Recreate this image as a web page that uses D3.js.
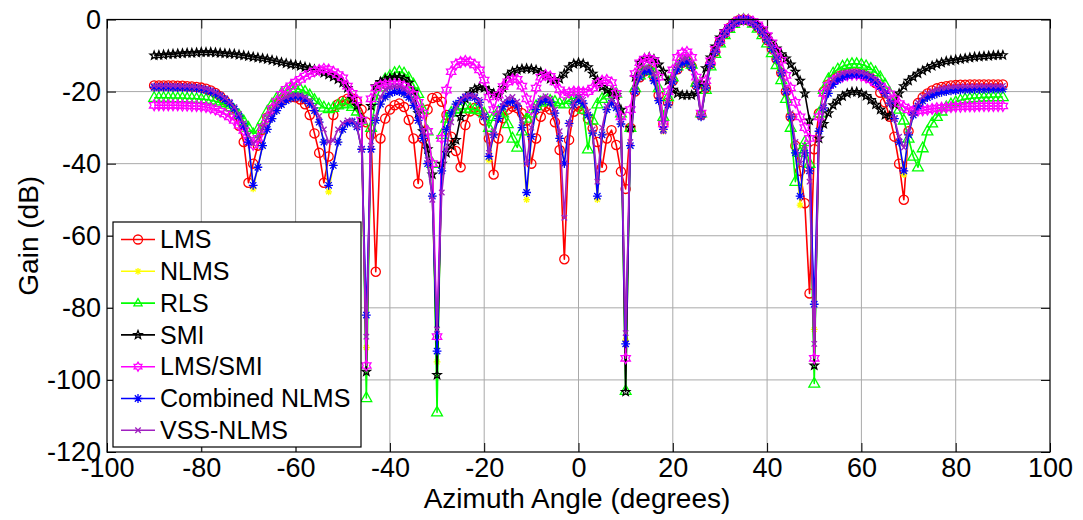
<!DOCTYPE html>
<html>
<head>
<meta charset="utf-8">
<script src="https://cdn.jsdelivr.net/npm/d3@7"></script>
<style>
  body { margin: 0; background: #fff; }
  svg { font-family: "Liberation Sans", Arial, sans-serif; }
</style>
</head>
<body>
<div id="chart"></div>
<script>
// sampled azimuth angles, one per degree
var angleStart = -90, angleEnd = 90, angleStep = 1;

var xTicks = [-100, -80, -60, -40, -20, 0, 20, 40, 60, 80, 100];
var yTicks = [-120, -100, -80, -60, -40, -20, 0];

var seriesNames = ["LMS", "NLMS", "RLS", "SMI", "LMS/SMI", "Combined NLMS", "VSS-NLMS"];

// gain in dB, -90 .. 90 degrees
var lms = [
  -18.3,-18.3,-18.3,-18.3,-18.3,-18.4,-18.4,-18.5,-18.6,-18.7,
  -18.9,-19.2,-19.7,-20.4,-21.3,-22.5,-24.2,-26.5,-29.5,-34.0,
  -45.3,-40.0,-35.0,-30.6,-27.2,-25.0,-23.5,-22.5,-21.8,-21.5,
  -21.6,-22.2,-23.5,-26.5,-31.6,-37.0,-45.3,-38.0,-26.5,-23.5,
  -22.6,-22.0,-21.9,-22.8,-25.0,-28.5,-32.0,-70.0,-33.0,-27.5,
  -25.0,-23.8,-23.3,-24.3,-27.9,-33.0,-45.5,-33.0,-25.0,-21.8,
  -21.5,-22.8,-26.5,-32.5,-36.5,-41.0,-29.3,-25.5,-24.5,-25.5,
  -28.0,-33.0,-43.0,-33.0,-27.4,-25.0,-24.2,-24.6,-26.0,-28.0,
  -40.0,-33.0,-27.0,-24.2,-25.0,-28.5,-36.2,-66.5,-33.4,-25.6,
  -24.2,-25.0,-27.5,-30.2,-34.0,-41.0,-33.0,-30.7,-34.8,-42.2,
  -47.0,-30.0,-20.0,-16.0,-14.4,-14.0,-15.8,-21.0,-29.0,-23.0,
  -17.0,-13.8,-12.0,-11.6,-13.0,-18.2,-26.5,-19.0,-12.3,-8.9,
  -6.1,-3.9,-2.3,-1.0,-0.2,0,-0.2,-0.9,-2.1,-3.7,
  -5.7,-8.1,-11.0,-14.8,-20.0,-27.0,-35.0,-42.0,-51.0,-76.0,
  -36.0,-26.0,-20.0,-18.0,-16.6,-15.8,-15.3,-15.0,-14.9,-14.9,
  -15.1,-15.6,-16.3,-17.6,-20.3,-23.0,-27.0,-32.5,-40.0,-50.0,
  -31.0,-25.5,-23.2,-21.6,-20.5,-19.7,-19.1,-18.7,-18.5,-18.3,
  -18.2,-18.1,-18.1,-18.0,-18.0,-18.0,-18.0,-18.0,-18.0,-18.0,
  -18.0
];

var nlms = [
  -18.8,-18.8,-18.8,-18.8,-18.9,-18.9,-18.9,-19.0,-19.0,-19.1,
  -19.3,-19.6,-20.0,-20.6,-21.3,-22.2,-23.3,-24.8,-26.8,-29.5,
  -34.0,-47.0,-41.0,-35.0,-30.5,-27.5,-25.3,-23.6,-22.5,-21.8,
  -21.5,-21.6,-22.2,-23.3,-25.3,-28.5,-34.0,-47.8,-40.5,-34.0,
  -30.5,-28.8,-28.4,-29.8,-36.0,-91.0,-36.0,-28.0,-23.5,-21.5,
  -20.5,-20.0,-20.0,-20.6,-21.6,-23.8,-28.0,-33.0,-40.0,-49.0,
  -95.0,-42.0,-30.5,-26.0,-23.5,-22.5,-21.6,-21.4,-21.7,-23.0,
  -27.0,-39.0,-32.0,-27.5,-24.2,-23.0,-22.8,-24.0,-30.0,-50.0,
  -32.5,-25.0,-22.8,-22.3,-23.0,-26.0,-33.0,-40.0,-28.8,-23.7,
  -22.3,-23.3,-26.5,-31.5,-50.0,-32.0,-25.0,-23.2,-24.5,-29.0,
  -89.0,-35.0,-20.0,-16.0,-14.5,-14.2,-17.0,-22.5,-31.0,-23.7,
  -17.3,-14.0,-12.2,-11.8,-13.2,-18.5,-27.0,-19.0,-12.5,-9.0,
  -6.2,-4.0,-2.4,-1.1,-0.3,0,-0.2,-0.9,-2.1,-3.7,
  -5.7,-8.1,-11.0,-14.8,-20.0,-27.0,-37.0,-51.5,-37.0,-42.0,
  -86.0,-31.0,-24.5,-20.5,-18.0,-16.8,-16.0,-15.5,-15.3,-15.2,
  -15.3,-15.7,-16.3,-17.3,-18.6,-20.5,-23.2,-27.5,-34.0,-43.0,
  -32.0,-26.5,-24.0,-22.6,-21.7,-21.1,-20.6,-20.2,-20.0,-19.8,
  -19.7,-19.6,-19.5,-19.5,-19.4,-19.4,-19.4,-19.3,-19.3,-19.3,
  -19.3
];

var rls = [
  -21.7,-21.7,-21.7,-21.7,-21.8,-21.8,-21.8,-21.9,-21.9,-22.0,
  -22.1,-22.2,-22.4,-22.7,-23.1,-23.6,-24.3,-25.2,-26.5,-28.2,
  -30.0,-31.8,-30.5,-28.0,-25.5,-23.5,-21.8,-20.5,-19.7,-19.2,
  -19.1,-19.4,-20.0,-21.0,-22.3,-23.5,-24.4,-24.8,-24.5,-23.8,
  -23.3,-23.5,-24.2,-25.5,-28.0,-105.0,-30.0,-22.5,-18.8,-16.5,
  -15.6,-14.8,-14.5,-14.9,-16.2,-18.0,-20.6,-25.0,-31.0,-40.0,
  -109.0,-32.0,-27.5,-25.8,-25.0,-24.8,-24.7,-24.8,-25.0,-25.2,
  -26.0,-30.0,-27.0,-25.5,-26.0,-29.0,-33.0,-35.5,-31.0,-27.5,
  -26.0,-24.0,-23.0,-22.6,-22.5,-22.8,-23.3,-23.5,-22.3,-21.8,
  -22.0,-25.0,-36.0,-28.0,-23.5,-22.0,-21.0,-20.2,-20.5,-26.0,
  -103.0,-30.0,-19.0,-15.5,-14.2,-13.8,-15.0,-19.0,-27.0,-21.5,
  -16.0,-13.0,-11.5,-11.2,-12.5,-17.5,-26.0,-19.5,-13.0,-9.5,
  -6.6,-4.3,-2.6,-1.2,-0.3,0,-0.3,-1.1,-2.5,-4.3,
  -6.6,-9.3,-12.6,-16.8,-22.0,-30.0,-45.0,-37.0,-34.0,-40.0,
  -101.0,-26.0,-19.5,-16.5,-14.9,-13.8,-13.0,-12.6,-12.3,-12.3,
  -12.5,-12.9,-13.6,-14.6,-16.0,-18.0,-20.4,-22.8,-25.0,-28.0,
  -33.0,-38.0,-41.0,-35.7,-31.0,-28.8,-27.0,-25.5,-24.3,-23.5,
  -22.9,-22.4,-22.1,-21.9,-21.8,-21.7,-21.6,-21.6,-21.5,-21.5,
  -21.5
];

var smi = [
  -10.0,-9.9,-9.8,-9.7,-9.6,-9.5,-9.4,-9.3,-9.3,-9.2,
  -9.1,-9.1,-9.1,-9.2,-9.3,-9.4,-9.5,-9.6,-9.8,-10.0,
  -10.2,-10.4,-10.6,-10.8,-11.0,-11.3,-11.6,-11.9,-12.2,-12.5,
  -12.6,-12.9,-13.2,-13.5,-13.9,-14.3,-14.8,-15.3,-15.9,-16.6,
  -17.5,-19.0,-22.0,-24.0,-27.5,-97.7,-24.0,-18.5,-17.3,-16.6,
  -16.2,-16.0,-16.0,-16.5,-17.5,-20.0,-26.0,-31.0,-36.0,-43.0,
  -98.6,-40.0,-37.0,-35.0,-33.4,-27.0,-22.0,-20.5,-19.3,-18.8,
  -19.0,-19.8,-20.5,-21.0,-19.0,-15.5,-14.5,-14.0,-13.7,-13.6,
  -13.7,-14.0,-14.6,-15.5,-16.5,-17.0,-16.5,-15.0,-13.3,-12.3,
  -12.0,-12.3,-13.2,-15.0,-16.8,-18.7,-19.6,-20.3,-21.0,-25.0,
  -103.3,-30.0,-16.0,-12.0,-10.8,-10.5,-11.0,-12.5,-14.5,-17.0,
  -19.5,-20.5,-21.0,-21.0,-21.0,-20.5,-17.5,-13.5,-10.5,-7.5,
  -5.0,-3.2,-1.8,-0.8,-0.2,0,-0.1,-0.6,-1.5,-2.7,
  -4.3,-6.2,-8.0,-9.6,-10.8,-12.5,-14.5,-17.0,-20.5,-28.0,
  -96.0,-33.0,-29.0,-26.0,-23.8,-22.5,-21.3,-20.5,-20.1,-20.1,
  -20.5,-21.2,-22.3,-23.6,-25.0,-26.5,-26.8,-23.5,-20.5,-18.5,
  -17.0,-16.0,-15.0,-14.2,-13.5,-12.9,-12.4,-12.0,-11.6,-11.4,
  -11.2,-11.0,-10.8,-10.6,-10.4,-10.3,-10.2,-10.1,-10.0,-9.9,
  -9.9
];

var lmsSmi = [
  -23.8,-23.8,-23.8,-23.8,-23.8,-23.8,-23.9,-23.9,-24.0,-24.0,
  -24.1,-24.3,-24.6,-25.0,-25.5,-26.2,-27.0,-28.0,-29.3,-30.8,
  -33.5,-34.8,-33.0,-30.0,-27.2,-24.8,-22.8,-20.8,-19.4,-18.4,
  -17.4,-16.6,-15.7,-15.0,-14.4,-14.0,-13.7,-13.9,-14.5,-15.3,
  -16.2,-18.5,-20.5,-22.3,-28.0,-96.0,-22.0,-19.0,-18.3,-18.0,
  -17.9,-17.9,-18.0,-18.5,-19.4,-20.8,-23.0,-26.0,-31.0,-40.0,
  -88.0,-33.0,-19.6,-14.5,-12.5,-11.8,-11.5,-11.8,-12.6,-14.0,
  -16.8,-21.5,-25.0,-21.0,-18.6,-17.3,-16.6,-16.6,-18.5,-22.0,
  -25.0,-19.0,-16.0,-15.4,-15.8,-17.3,-19.5,-20.8,-20.3,-20.0,
  -20.0,-20.2,-20.0,-19.0,-17.8,-17.0,-16.8,-17.5,-20.5,-27.0,
  -94.0,-25.0,-15.0,-12.0,-11.0,-10.8,-11.5,-16.0,-29.0,-20.0,
  -14.0,-10.5,-9.3,-9.0,-10.5,-16.0,-26.0,-17.0,-11.5,-8.3,
  -5.8,-3.7,-2.2,-1.0,-0.2,0,-0.1,-0.6,-1.5,-2.8,
  -4.5,-6.5,-8.8,-11.3,-15.5,-19.0,-23.0,-27.0,-30.0,-33.0,
  -94.0,-27.0,-20.5,-18.3,-17.0,-16.3,-15.8,-15.5,-15.3,-15.3,
  -15.6,-16.1,-16.7,-17.5,-18.5,-19.5,-20.6,-22.0,-23.3,-24.3,
  -25.0,-25.3,-25.3,-25.2,-25.0,-24.8,-24.6,-24.5,-24.4,-24.3,
  -24.2,-24.2,-24.1,-24.1,-24.1,-24.0,-24.0,-24.0,-24.0,-24.0,
  -24.0
];

var combinedNlms = [
  -18.8,-18.8,-18.8,-18.8,-18.9,-18.9,-18.9,-19.0,-19.0,-19.1,
  -19.3,-19.6,-20.0,-20.6,-21.3,-22.2,-23.3,-24.8,-26.8,-29.5,
  -34.0,-46.0,-41.0,-35.0,-30.5,-27.5,-25.3,-23.6,-22.5,-21.8,
  -21.5,-21.6,-22.2,-23.3,-25.3,-28.5,-34.0,-46.0,-40.5,-34.0,
  -30.5,-28.8,-28.4,-29.8,-36.0,-82.0,-36.0,-28.0,-23.5,-21.5,
  -20.5,-20.0,-20.0,-20.6,-21.6,-23.8,-28.0,-33.0,-40.0,-49.0,
  -92.0,-42.0,-30.5,-26.0,-23.5,-22.5,-21.6,-21.4,-21.7,-23.0,
  -27.0,-38.0,-32.0,-27.5,-24.2,-23.0,-22.8,-24.0,-30.0,-48.0,
  -32.5,-25.0,-22.8,-22.3,-23.0,-26.0,-33.0,-40.0,-28.8,-23.7,
  -22.3,-23.3,-26.5,-31.5,-49.0,-32.0,-25.0,-23.2,-24.5,-29.0,
  -90.0,-35.0,-20.0,-16.0,-14.5,-14.2,-17.0,-22.5,-30.5,-23.7,
  -17.3,-14.0,-12.2,-11.8,-13.2,-18.5,-27.0,-19.0,-12.5,-9.0,
  -6.2,-4.0,-2.4,-1.1,-0.3,0,-0.2,-0.9,-2.1,-3.7,
  -5.7,-8.1,-11.0,-14.8,-20.0,-27.0,-37.0,-49.0,-37.0,-42.0,
  -79.0,-31.0,-24.5,-20.5,-18.0,-16.8,-16.0,-15.5,-15.3,-15.2,
  -15.3,-15.7,-16.3,-17.3,-18.6,-20.5,-23.2,-27.5,-34.0,-42.0,
  -32.0,-26.5,-24.0,-22.6,-21.7,-21.1,-20.6,-20.2,-20.0,-19.8,
  -19.7,-19.6,-19.5,-19.5,-19.4,-19.4,-19.4,-19.3,-19.3,-19.3,
  -19.3
];

var vssNlms = [
  -18.4,-18.4,-18.4,-18.4,-18.4,-18.4,-18.5,-18.5,-18.6,-18.7,
  -18.9,-19.2,-19.6,-20.2,-20.9,-21.8,-22.9,-24.3,-26.2,-28.8,
  -32.0,-34.5,-33.0,-30.0,-27.3,-25.2,-23.6,-22.4,-21.6,-21.1,
  -20.9,-21.0,-21.5,-22.5,-24.2,-26.8,-30.5,-34.0,-33.5,-30.5,
  -28.8,-28.0,-28.0,-29.5,-36.0,-88.0,-35.0,-27.0,-21.5,-19.5,
  -18.8,-18.5,-18.6,-19.2,-20.3,-22.5,-25.5,-31.0,-39.0,-50.0,
  -86.0,-48.0,-36.0,-28.5,-24.5,-22.3,-21.3,-21.0,-21.3,-22.3,
  -26.5,-37.0,-31.0,-26.0,-23.0,-21.8,-21.5,-22.8,-28.0,-40.0,
  -30.0,-24.0,-21.8,-21.3,-22.0,-25.0,-31.0,-55.0,-29.0,-23.0,
  -21.5,-22.3,-25.5,-30.5,-45.0,-30.0,-24.0,-22.2,-23.5,-28.0,
  -87.0,-34.0,-19.0,-15.0,-13.5,-13.2,-15.0,-21.0,-31.0,-22.5,
  -16.3,-12.8,-11.2,-10.8,-12.3,-17.8,-27.0,-18.5,-12.2,-8.8,
  -6.1,-3.9,-2.3,-1.0,-0.2,0,-0.2,-0.8,-1.9,-3.5,
  -5.5,-7.8,-10.6,-14.3,-19.3,-26.0,-34.0,-40.0,-35.0,-45.0,
  -90.0,-33.0,-24.0,-19.0,-16.8,-15.5,-14.9,-14.6,-14.5,-14.5,
  -14.7,-15.1,-15.7,-16.7,-18.2,-20.3,-23.2,-27.5,-32.5,-35.5,
  -31.0,-26.0,-23.0,-21.4,-20.4,-19.8,-19.3,-19.0,-18.8,-18.7,
  -18.6,-18.6,-18.5,-18.5,-18.5,-18.4,-18.4,-18.4,-18.4,-18.4,
  -18.4
];

((() => {

  var width = 1083;
  var height = 520;

  var x = d3.scaleLinear().domain([-100, 100]).range([107, 1050]);
  var y = d3.scaleLinear().domain([-120, 0]).range([452, 19.5]);

  var angles = d3.range(angleStart, angleEnd + angleStep, angleStep);

  var series = [
    { name: seriesNames[0], values: lms,          color: "#ff0000", marker: "circle",   r: 4.6 },
    { name: seriesNames[1], values: nlms,         color: "#ffff00", marker: "asterisk", r: 3.4 },
    { name: seriesNames[2], values: rls,          color: "#00ff00", marker: "triangle", r: 6.0 },
    { name: seriesNames[3], values: smi,          color: "#000000", marker: "pentagram",r: 4.4 },
    { name: seriesNames[4], values: lmsSmi,       color: "#ff00ff", marker: "hexagram", r: 5.4 },
    { name: seriesNames[5], values: combinedNlms, color: "#0000ff", marker: "asterisk", r: 4.4 },
    { name: seriesNames[6], values: vssNlms,      color: "#a020c0", marker: "cross",    r: 3.4 }
  ];

  var svg = d3
    .select("#chart")
    .append("svg")
    .attr("width", width)
    .attr("height", height);

  // marker shapes like the matlab ones
  function starPath(n, ro, ri) {
    var pts = d3.range(n * 2).map(function(k) {
      var a = -Math.PI / 2 + k * Math.PI / n;
      var rr = k % 2 === 0 ? ro : ri;
      return [rr * Math.cos(a), rr * Math.sin(a)];
    });
    return "M" + pts.map(function(p) { return p[0].toFixed(2) + "," + p[1].toFixed(2); }).join("L") + "Z";
  }

  function markerPath(shape, r) {
    if (shape === "circle") {
      return "M" + r + ",0A" + r + "," + r + " 0 1,1 " + (-r) + ",0A" + r + "," + r + " 0 1,1 " + r + ",0Z";
    }
    if (shape === "triangle") {
      return "M0," + (-r) + "L" + (r * 0.9) + "," + (r * 0.6) + "L" + (-r * 0.9) + "," + (r * 0.6) + "Z";
    }
    if (shape === "pentagram") return starPath(5, r, r * 0.42);
    if (shape === "hexagram") return starPath(6, r, r * 0.58);
    if (shape === "cross") {
      var c = r * 0.8;
      return "M" + (-c) + "," + (-c) + "L" + c + "," + c + "M" + (-c) + "," + c + "L" + c + "," + (-c);
    }
    // asterisk: plus and cross together
    var d = r * 0.72;
    return "M" + (-r) + ",0L" + r + ",0M0," + (-r) + "L0," + r +
      "M" + (-d) + "," + (-d) + "L" + d + "," + d + "M" + (-d) + "," + d + "L" + d + "," + (-d);
  }

  // grid
  var grid = svg.append("g").attr("class", "grid");
  grid.selectAll("line.gx")
    .data(xTicks.slice(1, -1))
    .enter()
    .append("line")
    .attr("x1", function(d) { return x(d); })
    .attr("x2", function(d) { return x(d); })
    .attr("y1", y(0))
    .attr("y2", y(-120))
    .attr("stroke", "#a9a9a9")
    .attr("stroke-width", 1);
  grid.selectAll("line.gy")
    .data(yTicks.slice(1, -1))
    .enter()
    .append("line")
    .attr("x1", x(-100))
    .attr("x2", x(100))
    .attr("y1", function(d) { return y(d); })
    .attr("y2", function(d) { return y(d); })
    .attr("stroke", "#a9a9a9")
    .attr("stroke-width", 1);

  // axes, ticks pointing inwards, plain hyphen for minus
  var fontSize = "27px";
  var plain = function(d) { return String(d); };

  var xAxis = svg.append("g")
    .attr("transform", "translate(0," + y(-120) + ")")
    .call(d3.axisBottom(x).tickValues(xTicks).tickFormat(plain).tickSizeInner(-9).tickSizeOuter(0).tickPadding(6));
  var yAxis = svg.append("g")
    .attr("transform", "translate(" + x(-100) + ",0)")
    .call(d3.axisLeft(y).tickValues(yTicks).tickFormat(plain).tickSizeInner(-9).tickSizeOuter(0).tickPadding(6));
  svg.append("g")
    .attr("transform", "translate(0," + y(0) + ")")
    .call(d3.axisTop(x).tickValues(xTicks).tickSizeInner(-9).tickSizeOuter(0).tickFormat(""));
  svg.append("g")
    .attr("transform", "translate(" + x(100) + ",0)")
    .call(d3.axisRight(y).tickValues(yTicks).tickSizeInner(-9).tickSizeOuter(0).tickFormat(""));

  svg.selectAll(".domain").remove();
  svg.selectAll(".tick line").attr("stroke", "#000");
  [xAxis, yAxis].forEach(function(a) {
    a.selectAll("text")
      .style("font-size", fontSize)
      .style("font-family", "'Liberation Sans', Arial, sans-serif")
      .attr("fill", "#000");
  });

  // series: line first, then its markers
  var line = d3.line()
    .x(function(d, i) { return x(angles[i]); })
    .y(function(d) { return y(d); });

  series.forEach(function(s) {
    var g = svg.append("g").attr("class", "series");
    g.append("path")
      .datum(s.values)
      .attr("d", line)
      .attr("fill", "none")
      .attr("stroke", s.color)
      .attr("stroke-width", 1.6)
      .attr("stroke-linejoin", "round");
    g.selectAll("path.mk")
      .data(s.values)
      .enter()
      .append("path")
      .attr("class", "mk")
      .attr("d", markerPath(s.marker, s.r))
      .attr("transform", function(d, i) { return "translate(" + x(angles[i]) + "," + y(d) + ")"; })
      .attr("fill", "none")
      .attr("stroke", s.color)
      .attr("stroke-width", 1.3);
  });

  // frame
  svg.append("rect")
    .attr("x", x(-100))
    .attr("y", y(0))
    .attr("width", x(100) - x(-100))
    .attr("height", y(-120) - y(0))
    .attr("fill", "none")
    .attr("stroke", "#000")
    .attr("stroke-width", 1.2);

  // axis labels
  svg.append("text")
    .attr("x", 577)
    .attr("y", 508)
    .attr("text-anchor", "middle")
    .style("font-size", "28px")
    .text("Azimuth Angle (degrees)");
  svg.append("text")
    .attr("transform", "translate(38," + ((y(0) + y(-120)) / 2) + ") rotate(-90)")
    .attr("text-anchor", "middle")
    .style("font-size", "28px")
    .text("Gain (dB)");

  // legend
  var legend = svg.append("g").attr("class", "legend");
  legend.append("rect")
    .attr("x", 113)
    .attr("y", 222)
    .attr("width", 248)
    .attr("height", 225)
    .attr("fill", "#fff")
    .attr("stroke", "#000")
    .attr("stroke-width", 1.2);

  var items = legend.selectAll("g.item")
    .data(series)
    .enter()
    .append("g")
    .attr("class", "item")
    .attr("transform", function(d, i) { return "translate(0," + (239.5 + i * 31.8) + ")"; });
  items.append("line")
    .attr("x1", 121).attr("x2", 155)
    .attr("y1", 0).attr("y2", 0)
    .attr("stroke", function(d) { return d.color; })
    .attr("stroke-width", 1.6);
  items.append("path")
    .attr("d", function(d) { return markerPath(d.marker, Math.min(d.r, 4.5)); })
    .attr("transform", "translate(138,0)")
    .attr("fill", "none")
    .attr("stroke", function(d) { return d.color; })
    .attr("stroke-width", 1.3);
  items.append("text")
    .attr("x", 160)
    .attr("y", 0)
    .attr("dy", "0.35em")
    .style("font-size", "25px")
    .text(function(d) { return d.name; });

})());
</script>
</body>
</html>
